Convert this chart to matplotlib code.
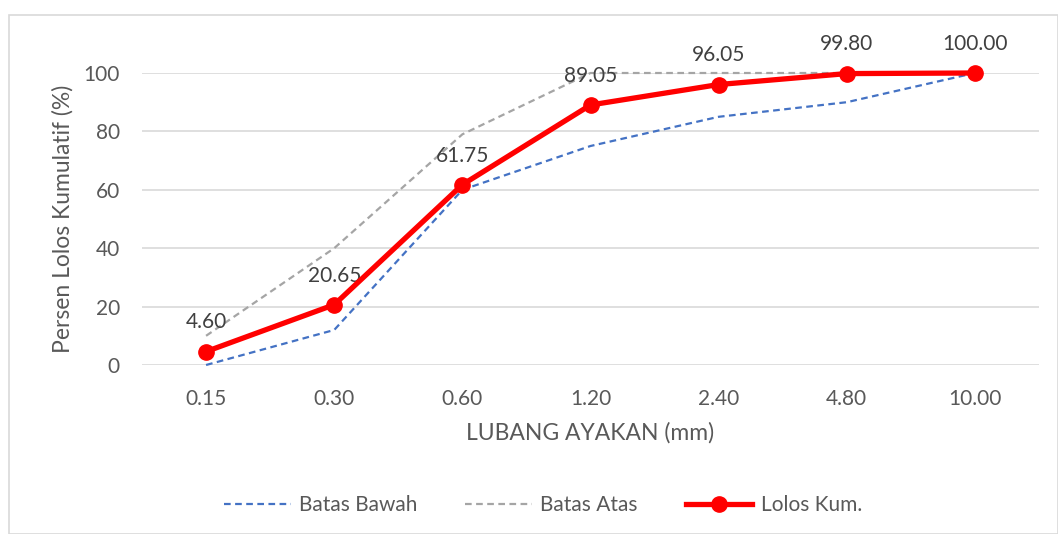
import matplotlib

matplotlib.use("Agg")
import matplotlib.pyplot as plt
from matplotlib.patches import Rectangle

plt.rcParams["font.family"] = ["Lato", "DejaVu Sans"]

sieve_labels = ["0.15", "0.30", "0.60", "1.20", "2.40", "4.80", "10.00"]
lower_limit = [0, 12, 60, 75, 85, 90, 100]
upper_limit = [10, 40, 79, 100, 100, 100, 100]
passing = [4.60, 20.65, 61.75, 89.05, 96.05, 99.80, 100.00]

W, H = 1058, 534
fig = plt.figure(figsize=(W / 100, H / 100), dpi=100)
ax = fig.add_axes([142 / W, (H - 365) / H, (1039 - 142) / W, (365 - 73) / H])

x = list(range(len(sieve_labels)))
ax.plot(x, lower_limit, color="#4472C4", lw=1.6, ls=(0, (3, 2)), label="Batas Bawah", clip_on=False)
ax.plot(x, upper_limit, color="#A5A5A5", lw=1.6, ls=(0, (3, 2)), label="Batas Atas", clip_on=False)
ax.plot(x, passing, color="#FF0000", lw=3.8, marker="o", ms=11, label="Lolos Kum.",
        clip_on=False, zorder=5)

for xi, v in zip(x, passing):
    ax.annotate(f"{v:.2f}", (xi, v), xytext=(0, 21), textcoords="offset points",
                ha="center", va="center", fontsize=15, color="#404040")

ax.set_xlim(-0.5, len(x) - 0.5)
ax.set_ylim(0, 100)
ax.set_yticks(range(0, 101, 20))
ax.set_xticks(x)
ax.set_xticklabels(sieve_labels)
ax.grid(axis="y", color="#D9D9D9", lw=1.2)
ax.set_axisbelow(True)
for s in ax.spines.values():
    s.set_visible(False)
ax.tick_params(length=0, labelsize=15, colors="#595959", pad=16)
ax.tick_params(axis="x", pad=17)

ax.set_xlabel("LUBANG AYAKAN (mm)", fontsize=16.5, color="#595959", labelpad=10)
ax.set_ylabel("Persen Lolos Kumulatif (%)", fontsize=16.5, color="#595959", labelpad=7)

fig.legend(loc="center", bbox_to_anchor=(543 / W, (H - 505) / H), ncol=3, frameon=False,
           fontsize=15, labelcolor="#595959", handlelength=3.2, columnspacing=2.3,
           handletextpad=0.4)

fig.patches.append(Rectangle((9 / W, 0), (W - 9) / W, (H - 15) / H, transform=fig.transFigure,
                             fill=False, edgecolor="#D9D9D9", lw=1.2))

fig.savefig("out.png", dpi=100)
